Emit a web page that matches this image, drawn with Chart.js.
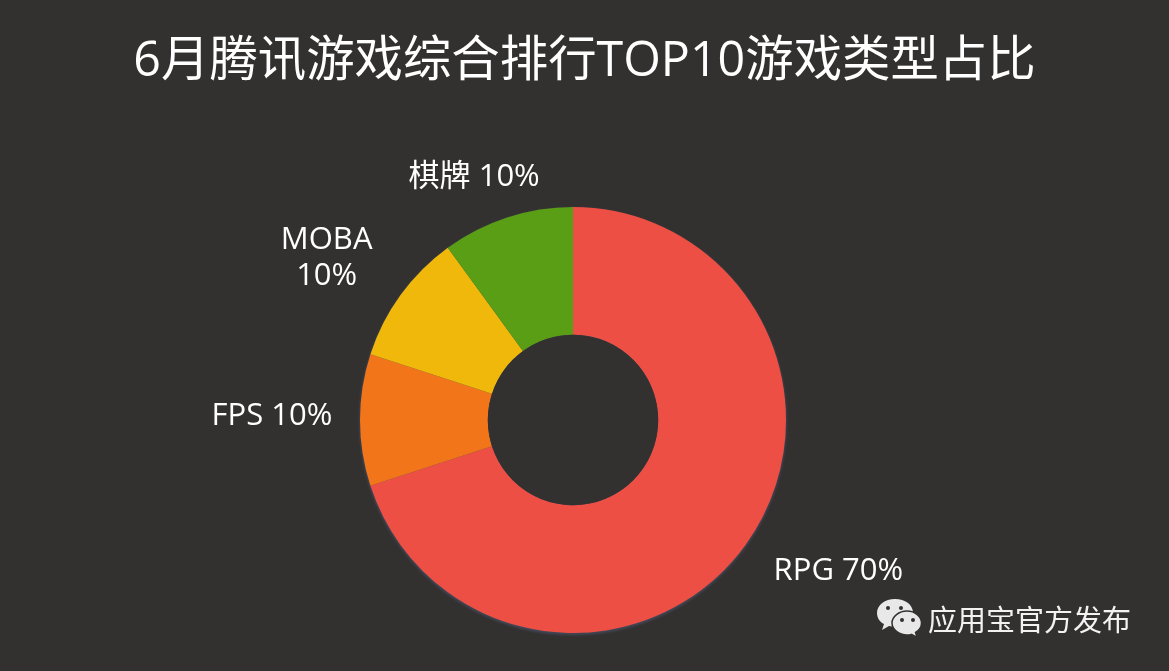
<!DOCTYPE html>
<html>
<head>
<meta charset="utf-8">
<script src="https://cdn.jsdelivr.net/npm/chart.js@4"></script>
<style>
  html, body { margin: 0; padding: 0; background: #333130; }
  body { width: 1169px; height: 671px; position: relative; overflow: hidden; font-family: "Open Sans", "Noto Sans CJK SC", sans-serif; color: #fff; }
  canvas { position: absolute; left: 0; top: 0; }
  #title { position: absolute; left: 0; width: 1169px; top: 22px; text-align: center; font-size: 48.4px; line-height: 70px; font-weight: 400; margin: 0; white-space: nowrap; }
  #brand { position: absolute; left: 876px; top: 597px; height: 42px; display: flex; align-items: center; font-size: 29px; color: #f2f2f2; white-space: nowrap; }
  #brand svg { margin-right: 6px; }
</style>
</head>
<body>
<canvas id="chart" width="1169" height="671"></canvas>
<h1 id="title">6月腾讯游戏综合排行TOP10游戏类型占比</h1>
<div id="brand">
  <svg width="46" height="40" viewBox="0 0 46 40">
    <path d="M19 1C9 1 1 7 1 15c0 5 3 9 7 11l-2 6 7-4c2 .5 4 .7 6 .7 10 0 18-6 18-14S29 1 19 1z" fill="#e8e8e8"/>
    <path d="M31 13c-8 0-15 5.500-15 12s7 12 15 12c1.500 0 3-.2 4.500-.6l5.500 3-1.500-5c3.500-2 6-5.500 6-9.400 0-6.500-6.500-12-14.500-12z" fill="#e8e8e8" stroke="#333130" stroke-width="1.500"/>
    <circle cx="12" cy="10" r="2" fill="#333130"/><circle cx="25" cy="10" r="2" fill="#333130"/>
    <circle cx="26" cy="22" r="2" fill="#333130"/><circle cx="37" cy="22" r="2" fill="#333130"/>
  </svg>
  <span>应用宝官方发布</span>
</div>
<script>
const categories = ['RPG', 'FPS', 'MOBA', '棋牌'];
const shares = [70, 10, 10, 10];
const sliceColors = ['#EE4F45', '#F2751A', '#EFB80B', '#5A9E16'];
// label text per slice, MOBA wraps onto two lines like the original
const sliceLabels = [['RPG 70%'], ['FPS 10%'], ['MOBA', '10%'], ['棋牌 10%']];
// label centre relative to the middle of each slice's outer edge
const labelOffsets = [[93, 26], [-88, -4], [-74, -37], [-33, -40]];

// faint bluish rim under the ring, only really visible along the bottom edge
const ringShadowPlugin = {
  id: 'ringShadow',
  beforeDatasetsDraw(chart) {
    const arc = chart.getDatasetMeta(0).data[0];
    const ctx = chart.ctx;
    ctx.save();
    ctx.fillStyle = '#434858';
    ctx.filter = 'blur(1px)';
    ctx.beginPath();
    ctx.arc(arc.x, arc.y + 1.5, arc.outerRadius + 0.5, 0, Math.PI * 2);
    ctx.fill();
    ctx.restore();
  }
};

const sliceLabelPlugin = {
  id: 'sliceLabels',
  afterDatasetsDraw(chart) {
    const ctx = chart.ctx;
    // the hole has to be repainted since the rim sits behind it
    const first = chart.getDatasetMeta(0).data[0];
    ctx.save();
    ctx.fillStyle = '#333130';
    ctx.beginPath();
    ctx.arc(first.x, first.y, first.innerRadius, 0, Math.PI * 2);
    ctx.fill();
    ctx.fillStyle = '#ffffff';
    ctx.font = '31px "Open Sans", "Noto Sans CJK SC", sans-serif';
    ctx.textAlign = 'center';
    ctx.textBaseline = 'middle';
    chart.getDatasetMeta(0).data.forEach((arc, i) => {
      const mid = (arc.startAngle + arc.endAngle) / 2;
      const x = arc.x + Math.cos(mid) * arc.outerRadius + labelOffsets[i][0];
      const y = arc.y + Math.sin(mid) * arc.outerRadius + labelOffsets[i][1];
      const lines = sliceLabels[i];
      lines.forEach((line, n) => {
        ctx.fillText(line, x, y + (n - (lines.length - 1) / 2) * 36);
      });
    });
    ctx.restore();
  }
};

new Chart(document.getElementById('chart').getContext('2d'), {
  type: 'doughnut',
  data: {
    labels: categories,
    datasets: [{
      data: shares,
      backgroundColor: sliceColors,
      borderWidth: 0
    }]
  },
  options: {
    responsive: false,
    animation: false,
    cutout: '40%',
    layout: { padding: { top: 207, bottom: 38, left: 360, right: 383 } },
    plugins: {
      legend: { display: false },
      tooltip: { enabled: false }
    }
  },
  plugins: [ringShadowPlugin, sliceLabelPlugin]
});
</script>
</body>
</html>
